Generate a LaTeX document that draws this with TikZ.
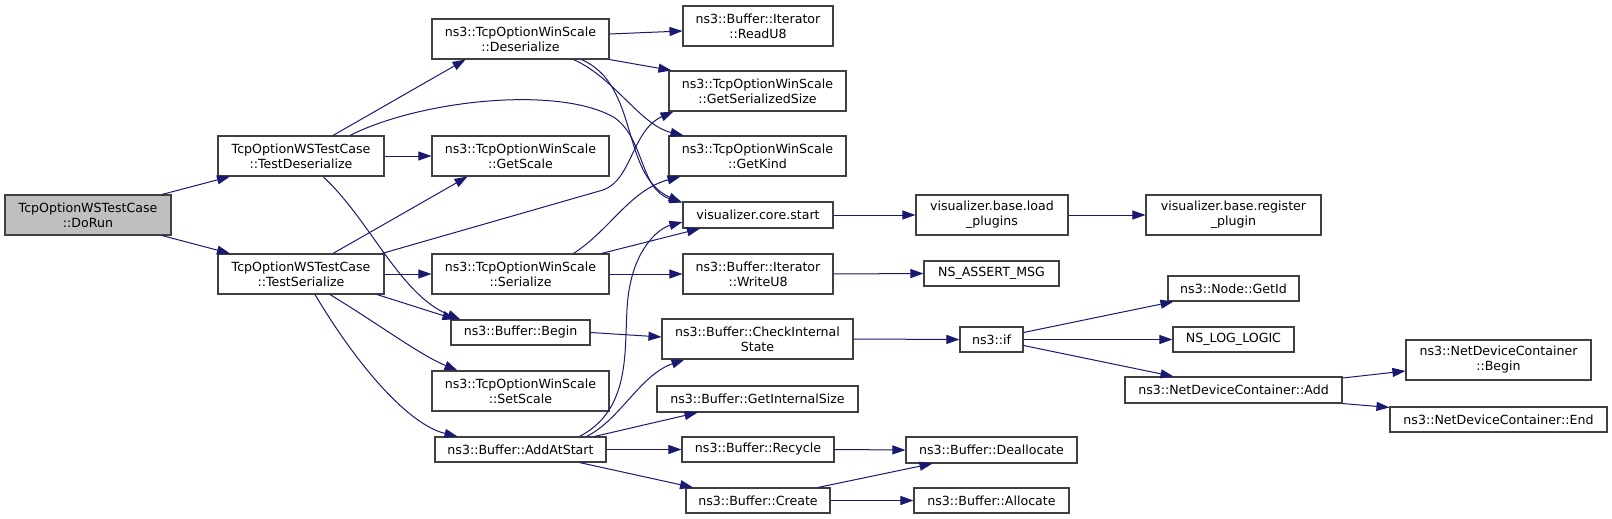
\documentclass[tikz,border=0pt]{standalone}
\usepackage{fontspec}
\setmainfont{DejaVu Sans}
\usetikzlibrary{arrows.meta}
\definecolor{edgecol}{HTML}{191970}
\definecolor{boxcol}{HTML}{404040}
\tikzset{
  box/.style={draw=boxcol, line width=1.1pt, fill=white, inner sep=0pt, align=center,
    font=\fontsize{12.6}{15}\selectfont, text=black},
  root/.style={box, fill=black!25},
  edge/.style={draw=edgecol, line width=1pt, -{Triangle[length=13pt,width=9pt]}},
}
\begin{document}
\begin{tikzpicture}[x=1pt,y=-1pt]
\useasboundingbox[fill=white] (0,0) rectangle (1612,519);
% column 0
\node[root, minimum width=166pt, minimum height=40pt] (dorun) at (88,215) {TcpOptionWSTestCase\\::DoRun};
% column 1
\node[box, minimum width=166pt, minimum height=40pt] (tdes) at (301,156) {TcpOptionWSTestCase\\::TestDeserialize};
\node[box, minimum width=166pt, minimum height=40pt] (tser) at (301,274) {TcpOptionWSTestCase\\::TestSerialize};
% column 2
\node[box, minimum width=177pt, minimum height=40pt] (des) at (520.5,39) {ns3::TcpOptionWinScale\\::Deserialize};
\node[box, minimum width=177pt, minimum height=40pt] (gsc) at (520.5,156) {ns3::TcpOptionWinScale\\::GetScale};
\node[box, minimum width=177pt, minimum height=40pt] (ser) at (520.5,274) {ns3::TcpOptionWinScale\\::Serialize};
\node[box, minimum width=139pt, minimum height=25pt] (beg) at (520.5,332.5) {ns3::Buffer::Begin};
\node[box, minimum width=177pt, minimum height=40pt] (ssc) at (520.5,391) {ns3::TcpOptionWinScale\\::SetScale};
\node[box, minimum width=171pt, minimum height=25pt] (aas) at (520.5,449.5) {ns3::Buffer::AddAtStart};
% column 3
\node[box, minimum width=150pt, minimum height=40pt] (ru8) at (758,26) {ns3::Buffer::Iterator\\::ReadU8};
\node[box, minimum width=177pt, minimum height=40pt] (gss) at (757.5,91) {ns3::TcpOptionWinScale\\::GetSerializedSize};
\node[box, minimum width=177pt, minimum height=40pt] (gk) at (757.5,156) {ns3::TcpOptionWinScale\\::GetKind};
\node[box, minimum width=150pt, minimum height=26pt] (vcs) at (758,215) {visualizer.core.start};
\node[box, minimum width=150pt, minimum height=40pt] (wu8) at (758,274) {ns3::Buffer::Iterator\\::WriteU8};
\node[box, minimum width=191pt, minimum height=40pt] (cis) at (757.5,339) {ns3::Buffer::CheckInternal\\State};
\node[box, minimum width=201pt, minimum height=26pt] (gis) at (757.5,399) {ns3::Buffer::GetInternalSize};
\node[box, minimum width=152pt, minimum height=25pt] (rec) at (758,449.5) {ns3::Buffer::Recycle};
\node[box, minimum width=144pt, minimum height=25pt] (cre) at (758,500.5) {ns3::Buffer::Create};
% column 4
\node[box, minimum width=152pt, minimum height=40pt] (lp) at (992,215) {visualizer.base.load\\\_plugins};
\node[box, minimum width=135pt, minimum height=25pt] (nam) at (991.5,273.5) {NS\_ASSERT\_MSG};
\node[box, minimum width=63pt, minimum height=25pt] (nif) at (991.5,339.5) {ns3::if};
\node[box, minimum width=171pt, minimum height=26pt] (dea) at (991.5,450) {ns3::Buffer::Deallocate};
\node[box, minimum width=155pt, minimum height=25pt] (all) at (991.5,500.5) {ns3::Buffer::Allocate};
% column 5
\node[box, minimum width=175pt, minimum height=40pt] (rp) at (1233.5,215) {visualizer.base.register\\\_plugin};
\node[box, minimum width=131pt, minimum height=25pt] (gid) at (1233.5,288.5) {ns3::Node::GetId};
\node[box, minimum width=121pt, minimum height=25pt] (nll) at (1233.5,339.5) {NS\_LOG\_LOGIC};
\node[box, minimum width=217pt, minimum height=26pt] (nda) at (1233.5,390) {ns3::NetDeviceContainer::Add};
% column 6
\node[box, minimum width=185pt, minimum height=40pt] (ndb) at (1498.5,360) {ns3::NetDeviceContainer\\::Begin};
\node[box, minimum width=217pt, minimum height=25pt] (nde) at (1498.5,419.5) {ns3::NetDeviceContainer::End};

% edges
\draw[edge] ([xshift=74pt]dorun.north) -- ([xshift=-71pt]tdes.south);
\draw[edge] ([xshift=74pt]dorun.south) -- ([xshift=-71pt]tser.north);

\draw[edge] ([xshift=32pt]tdes.north) -- ([xshift=-55pt]des.south);
\draw[edge] ([xshift=49pt]tdes.north) .. controls (420,100) and (560,85) .. (615,118) .. controls (645,140) and (640,190) .. ([yshift=-1pt]vcs.north west);
\draw[edge] (tdes.east) -- (gsc.west);
\draw[edge] ([xshift=22pt]tdes.south) .. controls (370,220) and (400,295) .. ([xshift=-60pt]beg.north);

\draw[edge] ([xshift=32pt]tser.north) -- ([xshift=-53pt]gsc.south);
\draw[edge] ([xshift=81pt]tser.north) -- (603,190) .. controls (632,180) and (632,130) .. ([xshift=-84pt]gss.south);
\draw[edge] (tser.east) -- (ser.west);
\draw[edge] ([xshift=76pt]tser.south) -- ([xshift=-65pt]beg.north);
\draw[edge] ([xshift=29pt]tser.south) .. controls (380,325) and (420,355) .. ([xshift=-63pt]ssc.north);
\draw[edge] ([xshift=14pt]tser.south) .. controls (360,370) and (410,425) .. ([xshift=-63pt]aas.north);

\draw[edge] ([yshift=5pt]des.east) -- ([yshift=-5pt]ru8.west);
\draw[edge] (des.south east) -- ([xshift=3pt]gss.north west);
\draw[edge] ([xshift=53pt]des.south) .. controls (615,78) and (640,125) .. ([xshift=-74pt]gk.north);
\draw[edge] ([xshift=61pt]des.south) .. controls (640,85) and (620,175) .. ([xshift=-1pt,yshift=-1pt]vcs.north west);

\draw[edge] ([xshift=53pt]ser.north) .. controls (610,230) and (630,190) .. ([xshift=-77pt]gk.south);
\draw[edge] ([xshift=81pt]ser.north) -- ([xshift=-58pt]vcs.south);
\draw[edge] (ser.east) -- (wu8.west);

\draw[edge] (beg.east) -- ([yshift=2pt]cis.west);

\draw[edge] ([xshift=59pt]aas.north) .. controls (640,405) and (620,330) .. (630,285) .. controls (638,245) and (660,228) .. ([yshift=-7pt]vcs.west);
\draw[edge] ([xshift=66pt]aas.north) .. controls (620,420) and (640,375) .. ([xshift=-73pt]cis.south);
\draw[edge] ([xshift=74pt]aas.north) -- ([xshift=-60pt]gis.south);
\draw[edge] (aas.east) -- (rec.west);
\draw[edge] ([xshift=59pt]aas.south) -- ([xshift=-65pt]cre.north);

\draw[edge] (vcs.east) -- (lp.west);
\draw[edge] (lp.east) -- (rp.west);
\draw[edge] (wu8.east) -- (nam.west);
\draw[edge] (cis.east) -- (nif.west);
\draw[edge] ([yshift=7pt]nif.east) -- ([xshift=-60pt]gid.south);
\draw[edge] (nif.east) -- (nll.west);
\draw[edge] ([yshift=-6pt]nif.east) -- ([xshift=-60pt]nda.north);
\draw[edge] ([yshift=12pt]nda.east) -- ([yshift=-11pt]ndb.west);
\draw[edge] (nda.south east) -- ([yshift=-1pt]nde.north west);
\draw[edge] (rec.east) -- (dea.west);
\draw[edge] ([xshift=60pt]cre.north) -- ([xshift=-59pt]dea.south);
\draw[edge] (cre.east) -- (all.west);
\end{tikzpicture}
\end{document}
